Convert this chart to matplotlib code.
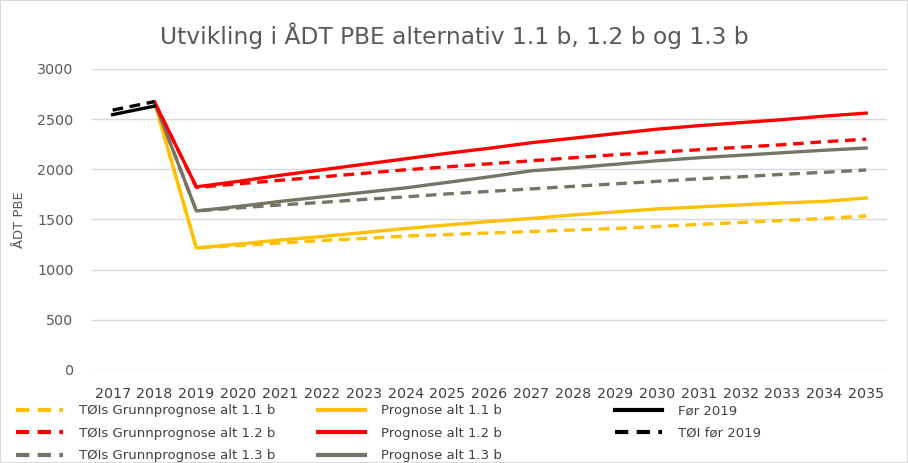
import matplotlib
matplotlib.use('Agg')
import matplotlib.pyplot as plt
from matplotlib.lines import Line2D

plt.rcParams['font.family'] = ['DejaVu Sans']

years = [str(y) for y in range(2017, 2036)]

# prognoser (2018-2035)
prog_11 = [2670, 1216, 1255, 1295, 1330, 1370, 1410, 1445, 1480, 1510, 1545, 1575, 1605, 1625, 1645, 1665, 1680, 1714]
grunn_11 = [2670, 1216, 1240, 1265, 1290, 1310, 1335, 1350, 1365, 1380, 1395, 1410, 1430, 1450, 1470, 1490, 1510, 1535]
prog_12 = [2670, 1825, 1880, 1940, 1995, 2050, 2105, 2160, 2210, 2265, 2310, 2355, 2400, 2435, 2465, 2495, 2530, 2560]
grunn_12 = [2670, 1820, 1855, 1890, 1925, 1960, 1995, 2025, 2055, 2085, 2115, 2145, 2170, 2195, 2220, 2245, 2275, 2300]
prog_13 = [2670, 1585, 1630, 1680, 1725, 1770, 1815, 1870, 1925, 1985, 2015, 2050, 2085, 2115, 2140, 2165, 2190, 2212]
grunn_13 = [2670, 1585, 1615, 1645, 1670, 1700, 1725, 1755, 1780, 1805, 1830, 1855, 1880, 1905, 1925, 1950, 1970, 1993]

# før 2019 (2017-2018)
for_2019 = [2545, 2630]
toi_for_2019 = [2590, 2675]

yellow = '#FFC000'
red = '#FF0000'
grey = '#767466'
txt = '#595959'
lw = 2.4
dash = (3.2, 2.0)

fig = plt.figure(figsize=(9.08, 4.63), dpi=100)
ax = fig.add_axes([0.101, 0.201, 0.876, 0.650])

x_all = list(range(len(years)))
xf = x_all[1:]
xh = x_all[:2]

ax.plot(xf, grunn_11, color=yellow, lw=lw, dashes=dash)
ax.plot(xf, grunn_13, color=grey, lw=lw, dashes=dash)
ax.plot(xf, grunn_12, color=red, lw=lw, dashes=dash)
ax.plot(xf, prog_11, color=yellow, lw=lw)
ax.plot(xf, prog_13, color=grey, lw=lw)
ax.plot(xf, prog_12, color=red, lw=lw)
ax.plot(xh, for_2019, color='black', lw=lw)
ax.plot(xh, toi_for_2019, color='black', lw=lw, dashes=dash)

ax.set_xlim(-0.5, len(years) - 0.5)
ax.set_ylim(0, 3000)
ax.set_yticks(range(0, 3001, 500))
ax.set_xticks(x_all)
ax.set_xticklabels(years)
ax.grid(axis='y', color='#D9D9D9', lw=1)
ax.set_axisbelow(True)
for s in ax.spines.values():
    s.set_visible(False)
ax.tick_params(axis='both', length=0, colors=txt, labelsize=10.3)
ax.tick_params(axis='x', pad=12, labelcolor='#404040')
ax.tick_params(axis='y', pad=13)
ax.set_ylabel('ÅDT PBE', color=txt, fontsize=9.5, labelpad=8)

fig.text(0.5, 0.922, 'Utvikling i ÅDT PBE alternativ 1.1 b, 1.2 b og 1.3 b',
         ha='center', va='center', fontsize=16.8, color=txt)

col1 = [Line2D([], [], color=c, lw=lw + 0.6, dashes=dash) for c in (yellow, red, grey)]
col2 = [Line2D([], [], color=c, lw=lw + 0.6) for c in (yellow, red, grey)]
col3 = [Line2D([], [], color='black', lw=lw + 0.6),
        Line2D([], [], color='black', lw=lw + 0.6, dashes=dash)]
lab1 = ['TØIs Grunnprognose alt 1.1 b', 'TØIs Grunnprognose alt 1.2 b', 'TØIs Grunnprognose alt 1.3 b']
lab2 = ['Prognose alt 1.1 b', 'Prognose alt 1.2 b', 'Prognose alt 1.3 b']
lab3 = ['Før 2019', 'TØI før 2019']

for h, l, x0 in ((col1, lab1, 0.0176), (col2, lab2, 0.350), (col3, lab3, 0.677)):
    fig.legend(h, l, loc='upper left', bbox_to_anchor=(x0, 0.127), frameon=False,
               fontsize=9.5, handlelength=3.56, handletextpad=1.2, labelspacing=0.72,
               borderpad=0, borderaxespad=0, labelcolor='#404040')

fig.add_artist(plt.Rectangle((0, 0), 1, 1, transform=fig.transFigure, fill=False,
                             edgecolor='#D9D9D9', lw=1.5))

fig.savefig('out.png', dpi=100)
